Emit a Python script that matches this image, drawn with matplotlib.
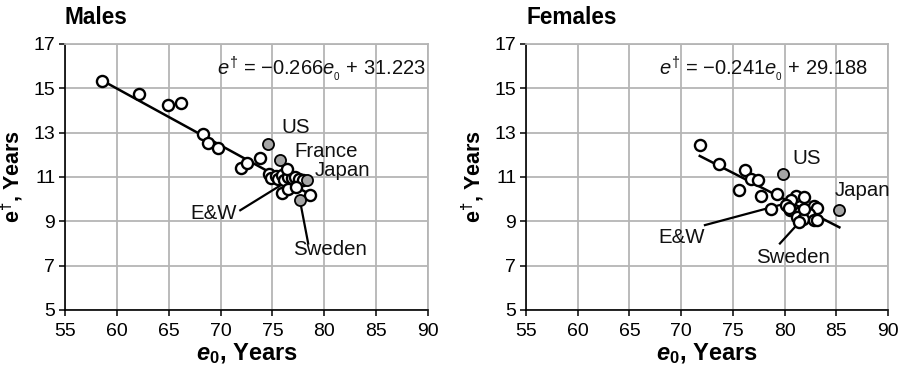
import matplotlib
matplotlib.use("Agg")
import matplotlib.pyplot as plt

plt.rcParams['font.family'] = ['Liberation Sans', 'DejaVu Sans']
plt.rcParams['mathtext.fontset'] = 'custom'
plt.rcParams['mathtext.rm'] = 'Liberation Sans'
plt.rcParams['mathtext.it'] = 'Liberation Sans:italic'
plt.rcParams['mathtext.bf'] = 'Liberation Sans:bold'
plt.rcParams['mathtext.bfit'] = 'Liberation Sans:bold:italic'
plt.rcParams['mathtext.sf'] = 'Liberation Sans'

# ---------------- data ----------------
x_ticks = [55, 60, 65, 70, 75, 80, 85, 90]
y_ticks = [5, 7, 9, 11, 13, 15, 17]

males_x = [58.6, 62.1, 64.9, 66.15, 68.3, 68.8, 69.8, 72.0, 72.5, 73.8,
           74.7, 74.9, 75.3, 75.5, 75.9, 76.1, 76.5, 76.9, 77.2, 77.6, 77.9,
           75.9, 76.5, 77.3, 78.6, 76.4]
males_y = [15.35, 14.75, 14.25, 14.35, 12.95, 12.55, 12.3, 11.4, 11.65, 11.85,
           11.15, 10.95, 11.05, 10.9, 11.1, 10.85, 11.0, 10.95, 11.0, 10.9, 10.85,
           10.3, 10.45, 10.55, 10.2, 11.35]
males_hl_names = ['US', 'France', 'Japan', 'Sweden']
males_hl_x = [74.55, 75.75, 78.3, 77.65]
males_hl_y = [12.49, 11.75, 10.85, 9.95]
males_fit_x = [58.6, 78.5]
males_fit_y = [15.35, 10.25]
males_eq = r'$e^{\dagger}$ = $-$0.266$e_{_0}$ + 31.223'

females_x = [71.8, 73.65, 76.15, 76.75, 77.4, 75.6, 77.7, 79.3, 78.7, 81.1,
             81.9, 80.6, 80.1, 82.8, 83.1, 80.5, 81.5, 82.4, 81.2, 81.8,
             82.8, 81.4, 83.1, 80.4, 81.9]
females_y = [12.45, 11.6, 11.3, 10.9, 10.85, 10.4, 10.15, 10.25, 9.55, 10.15,
             10.1, 9.95, 9.75, 9.7, 9.6, 9.5, 9.4, 9.35, 9.2, 9.1,
             9.05, 8.98, 9.05, 9.6, 9.55]
females_hl_names = ['US', 'Japan']
females_hl_x = [79.8, 85.25]
females_hl_y = [11.15, 9.5]
females_fit_x = [71.8, 85.3]
females_fit_y = [11.95, 8.73]
females_eq = r'$e^{\dagger}$ = $-$0.241$e_{_0}$ + 29.188'

# labels: (text, label x, label y, pointer from, pointer to)
males_labels = [('US', 77.2, 13.25, None, None),
                ('France', 80.2, 12.15, None, None),
                ('Japan', 81.8, 11.3, None, None),
                ('E&W', 69.3, 9.35, (71.9, 9.5), (76.05, 10.7)),
                ('Sweden', 80.55, 7.75, (78.45, 8.0), (77.65, 9.95))]
females_labels = [('US', 82.1, 11.85, None, None),
                  ('Japan', 87.5, 10.4, None, None),
                  ('E&W', 70.0, 8.25, (72.3, 8.83), (80.05, 9.8)),
                  ('Sweden', 80.8, 7.35, (79.55, 8.0), (81.35, 8.92))]

# ---------------- figure ----------------
fig = plt.figure(figsize=(9.05, 3.76), dpi=100)
W, H = 905, 376

def make_ax(left_px, right_px):
    return fig.add_axes([left_px / W, (H - 310) / H, (right_px - left_px) / W, 266 / H])

ax1 = make_ax(65, 428)
ax2 = make_ax(526, 888)

grid_c = '#b5b5b5'
gray_fill = '#a5a5a5'

def draw(ax, xs, ys, hx, hy, fx, fy, eq, labels, eq_right):
    ax.set_xlim(55, 90)
    ax.set_ylim(5, 17)
    ax.set_xticks(x_ticks)
    ax.set_yticks(y_ticks)
    ax.grid(True, color=grid_c, linewidth=1.3)
    ax.set_axisbelow(True)
    for s in ['top', 'right']:
        ax.spines[s].set_color(grid_c)
        ax.spines[s].set_linewidth(1.3)
    for s in ['left', 'bottom']:
        ax.spines[s].set_color('black')
        ax.spines[s].set_linewidth(1.2)
    ax.tick_params(axis='both', direction='out', length=4, width=1.1,
                   labelsize=14, colors='black')
    ax.tick_params(axis='x', pad=5)
    ax.tick_params(axis='y', pad=3)
    ax.plot(fx, fy, color='black', linewidth=1.8, zorder=3)
    ax.plot(xs, ys, 'o', markersize=8, markerfacecolor='white',
            markeredgecolor='black', markeredgewidth=1.7, zorder=4,
            linestyle='none')
    ax.plot(hx, hy, 'o', markersize=8, markerfacecolor=gray_fill,
            markeredgecolor='black', markeredgewidth=1.3, zorder=5,
            linestyle='none')
    for name, lx, ly, p0, p1 in labels:
        ax.text(lx, ly, name, fontsize=14.7, ha='center', va='center',
                color='#111111', zorder=6)
        if p0 is not None:
            ax.plot([p0[0], p1[0]], [p0[1], p1[1]], color='black',
                    linewidth=1.6, zorder=3)
    ax.text(eq_right, 15.9, eq, fontsize=14.5, ha='right', va='center',
            color='#111111', zorder=6)
    ax.set_ylabel(r'$\mathbf{e^{\dagger}}$, Years', fontsize=15.5,
                  fontweight='bold', labelpad=6)
    ax.set_xlabel(r'$\mathbfit{e}_{\mathbf{0}}$, Years', fontsize=17,
                  fontweight='bold', labelpad=1)

draw(ax1, males_x, males_y, males_hl_x, males_hl_y, males_fit_x, males_fit_y,
     males_eq, males_labels, 89.8)
draw(ax2, females_x, females_y, females_hl_x, females_hl_y, females_fit_x,
     females_fit_y, females_eq, females_labels, 88.1)

fig.text(65 / W, 1 - 17 / H, 'Males', fontsize=16.3, fontweight='bold',
         ha='left', va='center')
fig.text(526 / W, 1 - 17 / H, 'Females', fontsize=16.3, fontweight='bold',
         ha='left', va='center')

fig.savefig('out.png', dpi=100)
